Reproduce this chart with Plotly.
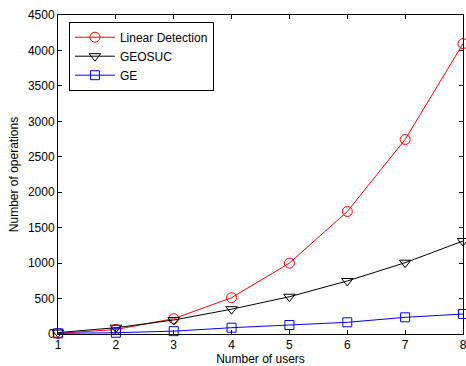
import plotly.graph_objects as go

users = [1, 2, 3, 4, 5, 6, 7, 8]
linear_detection = [8, 64, 216, 512, 1000, 1728, 2744, 4096]
geosuc = [20, 89, 197, 350, 526, 748, 1006, 1312]
ge = [10, 18, 40, 89, 127, 165, 235, 282]
y_ticks = [0, 500, 1000, 1500, 2000, 2500, 3000, 3500, 4000, 4500]

fig = go.Figure()
fig.add_trace(go.Scatter(x=users, y=linear_detection, name="Linear Detection",
                         mode="lines+markers", cliponaxis=False,
                         line=dict(color="#ff0000", width=1),
                         marker=dict(symbol="circle-open", size=10, color="#ff0000", line=dict(width=1))))
fig.add_trace(go.Scatter(x=users, y=geosuc, name="GEOSUC",
                         mode="lines+markers", cliponaxis=False,
                         line=dict(color="#000000", width=1),
                         marker=dict(symbol="triangle-down-open", size=10, color="#000000", line=dict(width=1))))
fig.add_trace(go.Scatter(x=users, y=ge, name="GE",
                         mode="lines+markers", cliponaxis=False,
                         line=dict(color="#0000ff", width=1),
                         marker=dict(symbol="square-open", size=9, color="#0000ff", line=dict(width=1))))

axis_common = dict(showline=True, linecolor="black", linewidth=1, mirror="ticks",
                   ticks="inside", ticklen=4, tickcolor="black", showgrid=False,
                   zeroline=False, ticklabeloverflow="allow", automargin=False,
                   tickfont=dict(size=12, color="black"))

fig.update_layout(
    width=466, height=366,
    margin=dict(l=58, r=3, t=15, b=32),
    paper_bgcolor="white", plot_bgcolor="white",
    font=dict(family="Liberation Sans, Arial, sans-serif", size=12, color="black"),
    showlegend=True,
    legend=dict(x=0.027, y=0.979, xanchor="left", yanchor="top",
                bordercolor="black", borderwidth=1, bgcolor="white",
                font=dict(size=12), tracegroupgap=0, itemwidth=40),
    xaxis=dict(range=[1, 8], tickvals=users, title=dict(text="Number of users", standoff=6, font=dict(size=12)), **axis_common),
    yaxis=dict(range=[0, 4500], tickvals=y_ticks, title=dict(text="Number of operations", standoff=6, font=dict(size=12)), **axis_common),
)

fig.write_html("out.html", config={"displayModeBar": False},
               post_script="document.body.style.margin='0';document.body.style.overflow='hidden';")
